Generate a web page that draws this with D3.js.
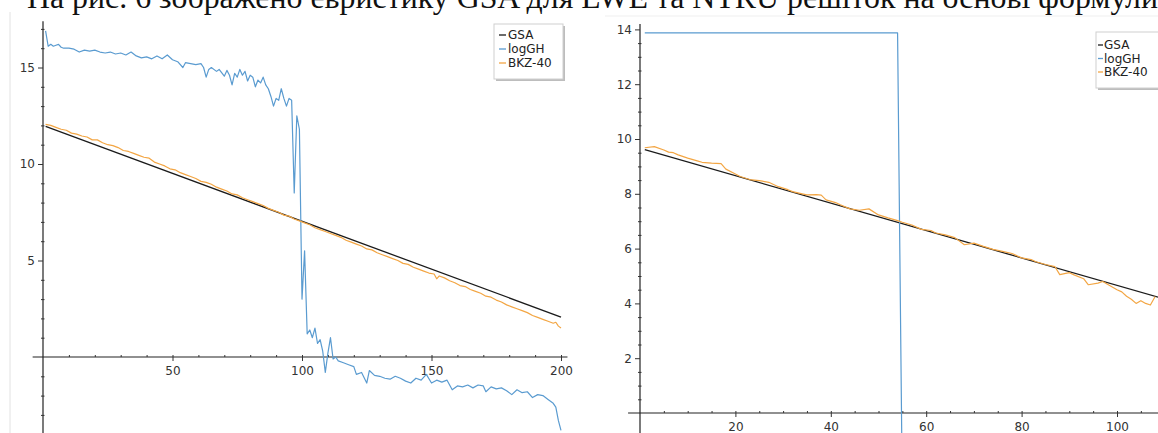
<!DOCTYPE html>
<html>
<head>
<meta charset="utf-8">
<script src="https://cdn.jsdelivr.net/npm/d3@7"></script>
<style>
body{margin:0;background:#fff}
svg{display:block}
</style>
</head>
<body>
<svg id="chart" width="1158" height="433"></svg>
<script>
const caption = "На рис. 6 зображено евристику GSA для LWE та NTRU решіток на основі формули";
const seriesNames = ["GSA", "logGH", "BKZ-40"];
const seriesColors = ["#1b1b1b", "#5a9bd0", "#f3a644"];

// left panel, [index, value]
const leftGSA = [[1, 11.95], [200, 2.07]];
const leftLogGH = [[1,16.9],[2,16.1],[3,16.2],[4,16.1],[5,16.15],[6,16.2],[7,16.05],[8,16.0],[10,16.0],[12,15.95],[14,15.8],[16,15.9],[18,15.85],[20,15.9],[22,15.8],[24,15.75],[26,15.8],[28,15.7],[30,15.75],[32,15.65],[34,15.8],[36,15.6],[38,15.5],[40,15.55],[42,15.45],[44,15.6],[46,15.45],[48,15.65],[50,15.4],[52,15.3],[54,15.0],[55,15.25],[57,15.2],[59,15.15],[61,15.2],[62,15.0],[63,14.5],[64,14.9],[65,15.0],[67,14.8],[68,14.9],[70,14.55],[71,14.85],[72,14.6],[73,14.1],[74,14.7],[75,14.5],[76,14.9],[77,14.6],[78,14.8],[79,14.3],[80,14.6],[81,14.5],[82,14.0],[83,14.35],[84,14.2],[85,14.5],[86,14.1],[87,13.9],[88,13.5],[89,13.0],[90,13.4],[91,13.3],[92,13.9],[93,13.4],[94,13.0],[95,13.4],[96,13.3],[97,8.5],[98,12.5],[99,11.8],[100,3.0],[101,5.5],[102,1.2],[103,1.4],[104,1.0],[105,1.5],[106,0.7],[107,0.9],[108,0.3],[109,-0.8],[110,0.2],[111,1.0],[112,-0.1],[113,0.0],[114,-0.2],[116,-0.3],[118,-0.4],[120,-0.5],[121,-0.9],[123,-0.8],[125,-1.35],[126,-0.7],[128,-0.95],[130,-1.0],[132,-1.1],[134,-1.15],[136,-1.0],[138,-1.1],[140,-1.25],[142,-1.35],[144,-1.1],[146,-1.2],[148,-0.9],[150,-1.35],[152,-1.2],[154,-1.3],[156,-1.2],[158,-1.7],[160,-1.5],[162,-1.55],[164,-1.45],[166,-1.6],[168,-1.45],[170,-1.5],[171,-1.8],[173,-1.55],[175,-1.65],[177,-1.6],[179,-1.75],[181,-1.95],[183,-1.7],[185,-1.85],[187,-1.8],[189,-2.1],[191,-1.95],[193,-2.0],[195,-2.2],[197,-2.4],[198,-2.6],[199,-3.3],[200,-3.8]];
const leftBKZ = [[1,12.05],[3,12.0],[5,11.9],[7,11.8],[9,11.75],[11,11.6],[13,11.55],[15,11.45],[17,11.4],[19,11.25],[21,11.25],[23,11.1],[25,11.0],[27,10.95],[29,10.85],[31,10.7],[33,10.65],[35,10.55],[37,10.45],[39,10.35],[41,10.3],[43,10.1],[45,10.0],[47,9.9],[49,9.75],[51,9.7],[53,9.55],[55,9.45],[57,9.35],[59,9.25],[61,9.1],[63,9.05],[65,8.95],[67,8.8],[69,8.7],[71,8.6],[73,8.45],[75,8.4],[77,8.25],[79,8.15],[81,8.05],[83,7.95],[85,7.85],[87,7.7],[89,7.6],[91,7.5],[93,7.35],[95,7.3],[97,7.15],[99,7.05],[101,6.95],[103,6.85],[105,6.7],[107,6.6],[109,6.5],[111,6.4],[113,6.3],[115,6.2],[117,6.05],[119,5.95],[121,5.85],[123,5.75],[125,5.6],[127,5.55],[129,5.4],[131,5.3],[133,5.2],[135,5.1],[137,5.0],[139,4.85],[141,4.8],[143,4.65],[145,4.55],[147,4.45],[149,4.35],[151,4.3],[152,4.05],[153,4.2],[155,4.1],[157,3.95],[159,3.85],[161,3.7],[163,3.65],[165,3.5],[167,3.4],[169,3.3],[171,3.15],[173,3.1],[175,2.95],[177,2.85],[179,2.7],[181,2.6],[183,2.5],[185,2.4],[187,2.3],[189,2.15],[191,2.05],[193,1.95],[195,1.85],[197,1.75],[198,1.8],[199,1.6],[200,1.5]];
const leftXTicks = [50, 100, 150, 200];
const leftYTicks = [5, 10, 15];

// right panel
const rightGSA = [[1, 9.61], [109, 4.21]];
const rightLogGH = [[1, 13.87], [54, 13.87], [55, -3], [109, -3]];
const rightBKZ = [[1,9.68],[3,9.72],[5,9.6],[6,9.52],[7,9.5],[8,9.42],[10,9.3],[12,9.2],[13,9.15],[15,9.12],[17,9.1],[18,8.9],[20,8.72],[21,8.63],[23,8.52],[25,8.48],[27,8.42],[29,8.26],[31,8.15],[32,8.08],[34,8.0],[35,7.96],[37,7.97],[38,7.95],[39,7.78],[41,7.68],[42,7.6],[44,7.45],[46,7.4],[48,7.45],[50,7.23],[52,7.12],[54,7.02],[55,6.96],[57,6.86],[59,6.7],[61,6.66],[62,6.57],[64,6.5],[66,6.4],[68,6.14],[70,6.2],[72,6.08],[74,5.97],[76,5.9],[78,5.82],[80,5.66],[82,5.6],[83,5.52],[85,5.42],[87,5.34],[88,5.05],[90,5.12],[91,5.04],[93,4.9],[94,4.68],[96,4.74],[97,4.8],[98,4.7],[100,4.5],[101,4.42],[102,4.26],[103,4.15],[104,4.0],[105,4.1],[106,4.0],[107,3.94],[108,4.25]];
const rightXTicks = [20, 40, 60, 80, 100];
const rightYTicks = [2, 4, 6, 8, 10, 12, 14];

const svg = d3.select("#chart");
const defs = svg.append("defs");

// faint page edges from the screenshot
svg.append("line").attr("x1", 10).attr("x2", 10).attr("y1", 12).attr("y2", 433)
  .attr("stroke", "#e2e2e2");
svg.append("line").attr("x1", 605).attr("x2", 1158).attr("y1", 16).attr("y2", 16)
  .attr("stroke", "#efefef");

svg.append("text")
  .attr("x", 27).attr("y", 8)
  .attr("textLength", 1131).attr("lengthAdjust", "spacingAndGlyphs")
  .style("font-family", "'Liberation Serif', 'Times New Roman', serif")
  .style("font-size", "32px")
  .attr("fill", "#111")
  .text(caption);

function panel(opt) {
  const g = svg.append("g");
  const x = opt.x, y = opt.y;

  defs.append("clipPath").attr("id", opt.id)
    .append("rect").attr("x", opt.clip[0]).attr("y", 0)
    .attr("width", opt.clip[1] - opt.clip[0]).attr("height", 433);

  // axes through the origin
  g.append("line").attr("x1", x(opt.xExt[0])).attr("x2", x(opt.xExt[1]))
    .attr("y1", y(0)).attr("y2", y(0)).attr("stroke", "#222").attr("stroke-width", 1.2);
  g.append("line").attr("x1", x(0)).attr("x2", x(0))
    .attr("y1", y(opt.yExt[0])).attr("y2", y(opt.yExt[1])).attr("stroke", "#222").attr("stroke-width", 1.2);

  const xMajor = g.append("g").attr("transform", `translate(0,${y(0)})`)
    .call(d3.axisBottom(x).tickValues(opt.xTicks).tickSize(4).tickPadding(opt.xPad));
  xMajor.selectAll("line").attr("y1", -2);
  const xMinor = g.append("g").attr("transform", `translate(0,${y(0)})`)
    .call(d3.axisTop(x).tickValues(opt.xMinor).tickSize(2).tickFormat(""));
  const yMajor = g.append("g").attr("transform", `translate(${x(0)},0)`)
    .call(d3.axisLeft(y).tickValues(opt.yTicks).tickSize(5).tickPadding(3));
  const yMinor = g.append("g").attr("transform", `translate(${x(0)},0)`)
    .call(d3.axisLeft(y).tickValues(opt.yMinor).tickSize(2).tickFormat(""));
  yMinor.selectAll("line").attr("x1", 1.5);

  [xMajor, xMinor, yMajor, yMinor].forEach(a => {
    a.select(".domain").remove();
    a.selectAll("line").attr("stroke", "#333");
    a.selectAll("text").attr("fill", "#333")
      .style("font-family", "'DejaVu Sans', sans-serif").style("font-size", "12px");
  });

  const line = d3.line().x(d => x(d[0])).y(d => y(d[1]));
  const lines = g.append("g").attr("clip-path", `url(#${opt.id})`);
  [opt.gsa, opt.gh, opt.bkz].forEach((s, i) => {
    lines.append("path").datum(s).attr("d", line)
      .attr("fill", "none").attr("stroke", seriesColors[i])
      .attr("stroke-width", i === 0 ? 1.3 : 1.2)
      .attr("stroke-linejoin", "round");
  });

  // legend
  const L = opt.legend;
  const lg = g.append("g");
  lg.append("rect").attr("x", L.x + 2).attr("y", L.y + 2).attr("width", L.w).attr("height", L.h)
    .attr("fill", "#bdbdbd");
  lg.append("rect").attr("x", L.x).attr("y", L.y).attr("width", L.w).attr("height", L.h)
    .attr("fill", "#fff").attr("stroke", "#cfcfcf");
  seriesNames.forEach((name, i) => {
    const ty = L.y + L.first + i * L.step;
    lg.append("line").attr("x1", L.x + L.l0).attr("x2", L.x + L.l1)
      .attr("y1", ty).attr("y2", ty).attr("stroke", seriesColors[i]).attr("stroke-width", 1.3);
    lg.append("text").attr("x", L.x + L.tx).attr("y", ty).attr("dy", "0.35em")
      .attr("fill", "#222")
      .style("font-family", "'DejaVu Sans', sans-serif").style("font-size", L.fs + "px")
      .text(name);
  });
}

const range = (a, b, s) => d3.range(a, b + s / 2, s);

const xL = d3.scaleLinear().domain([0, 200]).range([43, 561]);
const yL = d3.scaleLinear().domain([0, 15]).range([357, 357 - 15 * 19.3]);
panel({
  id: "clipL", x: xL, y: yL, clip: [33, 572],
  xExt: [-4, 202.5], yExt: [-4, 17.4],
  xTicks: leftXTicks, xMinor: range(10, 200, 10).filter(v => v % 50),
  yTicks: leftYTicks, yMinor: range(-3, 17, 1).filter(v => v % 5),
  xPad: 5,
  gsa: leftGSA, gh: leftLogGH, bkz: leftBKZ,
  legend: {x: 494, y: 24, w: 69, h: 55, first: 11, step: 14, l0: 5, l1: 12, tx: 14, fs: 12}
});

const xR = d3.scaleLinear().domain([0, 100]).range([640, 1117]);
const yR = d3.scaleLinear().domain([0, 14]).range([413, 413 - 14 * 27.4]);
panel({
  id: "clipR", x: xR, y: yR, clip: [628, 1158],
  xExt: [-2.5, 112], yExt: [-1, 14.2],
  xTicks: rightXTicks, xMinor: range(5, 110, 5).filter(v => v % 20),
  yTicks: rightYTicks, yMinor: range(0.5, 14, 0.5).filter(v => v % 2),
  xPad: 5,
  gsa: rightGSA, gh: rightLogGH, bkz: rightBKZ,
  legend: {x: 1096, y: 32, w: 80, h: 56, first: 13, step: 13.5, l0: 2, l1: 7, tx: 8, fs: 12}
});
</script>
</body>
</html>
